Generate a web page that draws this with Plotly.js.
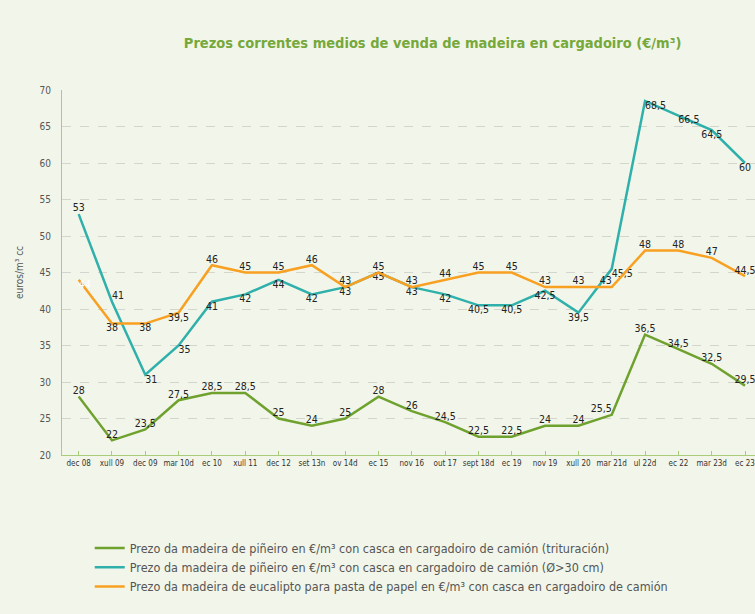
<!DOCTYPE html>
<html>
<head>
<meta charset="utf-8">
<script src="https://cdn.plot.ly/plotly-3.0.1.min.js"></script>
<style>
html,body{margin:0;padding:0;background:#f2f6ea;}
#chart{width:755px;height:614px;}
</style>
</head>
<body>
<div id="chart"></div>
<script>
const categories = ["dec 08","xull 09","dec 09","mar 10d","ec 10","xull 11","dec 12","set 13n","ov 14d","ec 15","nov 16","out 17","sept 18d","ec 19","nov 19","xull 20","mar 21d","ul 22d","ec 22","mar 23d","ec 23"];
const trituracion = [28,22,23.5,27.5,28.5,28.5,25,24,25,28,26,24.5,22.5,22.5,24,24,25.5,36.5,34.5,32.5,29.5];
const serradoGrosa = [53,41,31,35,41,42,44,42,43,45,43,42,40.5,40.5,42.5,39.5,45.5,68.5,66.5,64.5,60];
const eucalipto = [44,38,38,39.5,46,45,45,46,43,45,43,44,45,45,43,43,43,48,48,47,44.5];
const legendNames = [
  "Prezo da madeira de piñeiro en €/m³ con casca en cargadoiro de camión (trituración)",
  "Prezo da madeira de piñeiro en €/m³ con casca en cargadoiro de camión (Ø>30 cm)",
  "Prezo da madeira de eucalipto para pasta de papel en €/m³ con casca en cargadoiro de camión"
];

const fmt = v => String(v).replace('.', ',');
const FONT = "DejaVu Sans Condensed, Liberation Sans Narrow, Arial Narrow, sans-serif";

const greenPos = trituracion.map(() => "top center");
greenPos[16] = "top left";
const tealPos = serradoGrosa.map(() => "bottom center");
tealPos[0] = "top center"; tealPos[1] = "top right"; tealPos[2] = "bottom right"; tealPos[3] = "bottom right";
tealPos[16] = "bottom right"; tealPos[17] = "bottom right"; tealPos[18] = "bottom right"; tealPos[19] = "bottom center";
const orangePos = eucalipto.map(() => "top center");
orangePos[0] = "bottom right"; orangePos[1] = "bottom center"; orangePos[2] = "bottom center"; orangePos[3] = "bottom center";
orangePos[16] = "top left";
const orangeColors = eucalipto.map((v,i) => i === 0 ? "#ffffff" : "#222222");

const traces = [
  {x: categories, y: trituracion, name: legendNames[0], type: "scatter", mode: "lines+text",
   line: {color: "#6fa12f", width: 2.5}, text: trituracion.map(fmt), textposition: greenPos,
   textfont: {family: FONT, size: 10.5, color: "#222"}, cliponaxis: false},
  {x: categories, y: serradoGrosa, name: legendNames[1], type: "scatter", mode: "lines+text",
   line: {color: "#2fb0ab", width: 2.5}, text: serradoGrosa.map(fmt), textposition: tealPos,
   textfont: {family: FONT, size: 10.5, color: "#222"}, cliponaxis: false},
  {x: categories, y: eucalipto, name: legendNames[2], type: "scatter", mode: "lines+text",
   line: {color: "#f7a021", width: 2.5}, text: eucalipto.map(fmt), textposition: orangePos,
   textfont: {family: FONT, size: 10.5, color: orangeColors}, cliponaxis: false}
];

const layout = {
  width: 755, height: 614,
  paper_bgcolor: "#f2f6ea", plot_bgcolor: "#f2f6ea",
  margin: {l: 62, r: 0, t: 90, b: 159},
  title: {text: "<b>Prezos correntes medios de venda de madeira en cargadoiro (€/m³)</b>",
          font: {family: FONT, size: 14.5, color: "#76a83a"}, x: 0.573, xanchor: "center", y: 0.93, yanchor: "middle"},
  xaxis: {type: "category", range: [-0.5, 20.3], showgrid: false, showline: true, linecolor: "#a9cc7a", linewidth: 1,
          ticks: "inside", ticklen: 4, tickcolor: "#a9cc7a", tickangle: 0,
          tickfont: {family: FONT, size: 8, color: "#333"}, zeroline: false},
  yaxis: {range: [20, 70], dtick: 5, showgrid: true, gridcolor: "#d3d6cc", griddash: "dash", gridwidth: 1,
          showline: true, linecolor: "#a9cc7a", linewidth: 1, zeroline: false, ticks: "", ticklabelstandoff: 8,
          tickfont: {family: FONT, size: 10, color: "#555"},
          title: {text: "euros/m³ cc", font: {family: FONT, size: 10, color: "#555"}, standoff: 14}},
  showlegend: true,
  legend: {orientation: "v", x: 0.04, xanchor: "left", y: -0.215, yanchor: "top",
           font: {family: FONT, size: 12.5, color: "#555"}, bgcolor: "rgba(0,0,0,0)", tracegroupgap: 0, itemwidth: 30}
};

Plotly.newPlot("chart", traces, layout, {displayModeBar: false, staticPlot: true});
</script>
</body>
</html>
